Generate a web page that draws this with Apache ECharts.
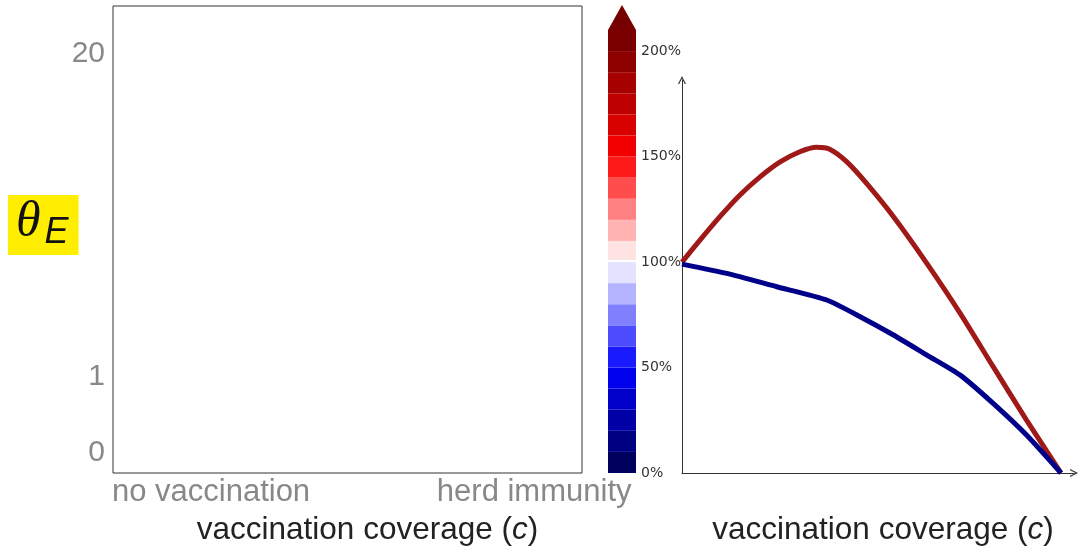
<!DOCTYPE html>
<html><head><meta charset="utf-8">
<script src="https://cdn.jsdelivr.net/npm/echarts@6/dist/echarts.min.js"></script>
<style>html,body{margin:0;padding:0;background:#fff}#c{width:1083px;height:547px}</style>
</head><body><div id="c"></div>
<script>
// Left panel tick labels and their positions (fraction of the panel)
const leftXLabels = ['no vaccination', 'herd immunity'];
const leftXLabelPos = [0.209, 0.898];
const leftYLabels = ['0', '1', '20'];
const leftYLabelPos = [0.043, 0.206, 0.897];

// Colour bar levels (%) and colours
const bandEdges = [0,10,20,30,40,50,60,70,80,90,100,101,110,120,130,140,150,160,170,180,190,200,210];
const bandColors = ['#00005e','#000082','#0000a6','#0000c9','#0000ed','#1a1aff','#4d4dff','#8080ff','#b3b3ff','#e3e3ff','#ffffff','#ffe3e3','#ffb3b3','#ff8080','#ff4d4d','#ff1a1a','#f20000','#d90000','#bf0000','#a60000','#8c0000','#7a0000'];
const colorbarTicks = [0, 50, 100, 150, 200];
const colorbarOverColor = '#760000';

// Right panel curves: x = vaccination coverage (1 = herd immunity), y = %
const redCoverage = [0, 0.0475, 0.1, 0.153, 0.206, 0.259, 0.311, 0.355, 0.391, 0.435, 0.487, 0.558, 0.646, 0.734, 0.821, 0.909, 1.0];
const redValues   = [100, 110.4, 121.5, 131.8, 140.4, 147.5, 152.3, 154.4, 153.4, 147.5, 137.3, 121.5, 99.4, 75.7, 50.4, 25.1, 0];
const blueCoverage = [0, 0.118, 0.25, 0.382, 0.47, 0.558, 0.646, 0.734, 0.821, 0.909, 1.0];
const blueValues   = [99, 94.6, 88.3, 82.0, 74.1, 65.4, 55.9, 46.4, 33.0, 18.0, 0];

const bands = [];
for (let i = 0; i < bandColors.length; i++) bands.push([0, bandEdges[i], bandEdges[i + 1], i]);
const cbMax = bandEdges[bandEdges.length - 1];

const chart = echarts.init(document.getElementById('c'), null, {renderer: 'canvas'});
const gray = '#888888';
const chevron = 'path://M0,10 L5,0 L10,10 L8.4,10 L5,3.2 L1.6,10 Z';
const nameRich = {
  i: {fontFamily: 'Liberation Sans', fontStyle: 'italic', fontSize: 31.5, color: '#222'}
};
const option = {
  animation: false,
  backgroundColor: '#fff',
  title: {
    left: 8, top: 192,
    padding: [3, 10, 4, 8],
    backgroundColor: '#ffee00',
    text: '{t|θ}{s|E}',
    textStyle: {
      fontWeight: 'normal',
      rich: {
        t: {fontFamily: 'Liberation Serif', fontStyle: 'italic', fontWeight: 'normal', fontSize: 50, lineHeight: 56, color: '#111', verticalAlign: 'middle'},
        s: {fontFamily: 'Liberation Sans', fontStyle: 'italic', fontWeight: 'normal', fontSize: 36, lineHeight: 33, color: '#111', verticalAlign: 'bottom', padding: [0, 0, 0, 4]}
      }
    }
  },
  grid: [
    {left: 113, top: 6, width: 469, height: 467, show: true, borderColor: '#333', borderWidth: 1, backgroundColor: 'transparent', outerBoundsMode: 'none', containLabel: false},
    {left: 608, top: 30, width: 28, height: 443, outerBoundsMode: 'none', containLabel: false},
    {left: 682, top: 80, width: 392, height: 393, outerBoundsMode: 'none', containLabel: false}
  ],
  xAxis: [
    {gridIndex: 0, type: 'value', min: 0, max: 1,
      axisLine: {show: false}, axisTick: {show: false}, splitLine: {show: false},
      axisLabel: {customValues: leftXLabelPos, margin: 4, fontSize: 31, fontFamily: 'Liberation Sans', color: gray,
        formatter: (v, idx) => leftXLabels[leftXLabelPos.indexOf(v)] ?? leftXLabels[idx]},
      name: 'vaccination coverage ({i|c})', nameLocation: 'middle', nameGap: 41,
      nameTextStyle: {fontFamily: 'Liberation Sans', fontSize: 31.5, color: '#222', padding: [0, 0, 0, 40], rich: nameRich}
    },
    {gridIndex: 1, type: 'category', data: ['cb'], show: false},
    {gridIndex: 2, type: 'value', min: 0, max: 1.0343,
      axisLine: {show: true, lineStyle: {color: '#333', width: 1}, symbol: ['none', chevron], symbolSize: [12, 8]},
      axisTick: {show: false}, splitLine: {show: false}, axisLabel: {show: false},
      name: 'vaccination coverage ({i|c})', nameLocation: 'middle', nameGap: 41,
      nameTextStyle: {fontFamily: 'Liberation Sans', fontSize: 31.5, color: '#222', padding: [0, 0, 0, 10], rich: nameRich}
    }
  ],
  yAxis: [
    {gridIndex: 0, type: 'value', min: 0, max: 1,
      axisLine: {show: false}, axisTick: {show: false}, splitLine: {show: false},
      axisLabel: {customValues: leftYLabelPos, margin: 8, fontSize: 30, fontFamily: 'Liberation Sans', color: gray,
        formatter: (v, idx) => leftYLabels[leftYLabelPos.indexOf(v)] ?? leftYLabels[idx]}
    },
    {gridIndex: 1, type: 'value', min: 0, max: cbMax, position: 'right',
      axisLine: {show: false}, axisTick: {show: false}, splitLine: {show: false},
      axisLabel: {customValues: colorbarTicks, margin: 5, fontSize: 14, fontFamily: 'DejaVu Sans', color: '#333', formatter: '{value}%'}
    },
    {gridIndex: 2, type: 'value', min: 0, max: 186.3,
      axisLine: {show: true, lineStyle: {color: '#333', width: 1}, symbol: ['none', chevron], symbolSize: [12, 8]},
      axisTick: {show: false}, splitLine: {show: false}, axisLabel: {show: false}
    }
  ],
  series: [
    {type: 'custom', xAxisIndex: 1, yAxisIndex: 1, data: bands, encode: {x: 0, y: [1, 2]}, silent: true,
      renderItem: function (params, api) {
        const lo = api.coord([0, api.value(1)]);
        const hi = api.coord([0, api.value(2)]);
        const w = api.size([1, 0])[0];
        return {type: 'rect', shape: {x: lo[0] - w / 2, y: hi[1], width: w, height: lo[1] - hi[1]},
          style: {fill: bandColors[api.value(3)]}};
      }
    },
    {type: 'scatter', xAxisIndex: 1, yAxisIndex: 1, data: [[0, cbMax]], symbol: 'triangle',
      symbolSize: [28, 25], symbolOffset: [0, -12.5], itemStyle: {color: colorbarOverColor, opacity: 1}, silent: true},
    {type: 'line', xAxisIndex: 2, yAxisIndex: 2, data: redCoverage.map((x, i) => [x, redValues[i]]),
      showSymbol: false, smooth: 0.25, clip: false, lineStyle: {color: '#a01919', width: 5}, itemStyle: {color: '#a01919'}},
    {type: 'line', xAxisIndex: 2, yAxisIndex: 2, data: blueCoverage.map((x, i) => [x, blueValues[i]]),
      showSymbol: false, smooth: 0.2, clip: false, lineStyle: {color: '#000088', width: 5}, itemStyle: {color: '#000088'}}
  ]
};
chart.setOption(option);
</script>
</body></html>
